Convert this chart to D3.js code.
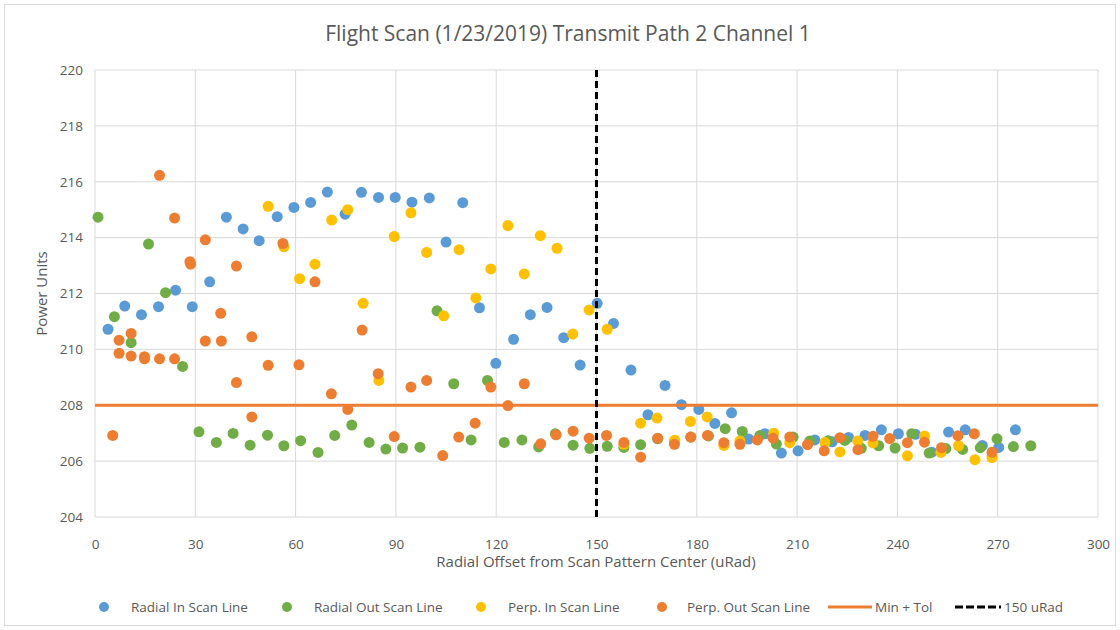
<!DOCTYPE html>
<html>
<head>
<meta charset="utf-8">
<script src="https://cdn.jsdelivr.net/npm/d3@7"></script>
<style>
  body { margin: 0; background: #fff; }
  svg text { font-family: "Open Sans", "Liberation Sans", sans-serif; fill: #595959; }
</style>
</head>
<body>
<svg id="chart" width="1120" height="630"></svg>
<script>
// data: [radial offset, power]
const radialIn = [
  [3.9, 210.72], [8.9, 211.55], [13.9, 211.24], [19.0, 211.53], [24.1, 212.12], [29.1, 211.53],
  [34.3, 212.42], [39.3, 214.73], [44.3, 214.31], [49.1, 213.89], [54.5, 214.75], [59.5, 215.08],
  [64.5, 215.26], [69.5, 215.63], [74.8, 214.84], [79.7, 215.62], [84.8, 215.44], [89.8, 215.44],
  [94.8, 215.27], [100.0, 215.42], [105.0, 213.84], [110.0, 215.25], [115.0, 211.49], [119.9, 209.5],
  [125.2, 210.36], [130.2, 211.24], [135.2, 211.5], [140.2, 210.42], [145.1, 209.44], [150.2, 211.65],
  [155.1, 210.93], [160.3, 209.26], [165.4, 207.66], [170.5, 208.71], [175.4, 208.02], [180.6, 207.85],
  [185.4, 207.35], [190.4, 207.73], [195.5, 206.79], [200.4, 206.98], [205.3, 206.29], [210.3, 206.37],
  [215.3, 206.76], [220.5, 206.69], [225.4, 206.85], [230.3, 206.92], [235.2, 207.12], [240.3, 206.98],
  [245.4, 206.96], [250.3, 206.32], [255.3, 207.04], [260.3, 207.12], [265.4, 206.56], [270.3, 206.49],
  [275.3, 207.12]
];
const radialOut = [
  [0.9, 214.73], [5.8, 211.17], [10.8, 210.24], [16.0, 213.77], [21.1, 212.03], [26.2, 209.39],
  [31.1, 207.05], [36.3, 206.67], [41.3, 206.99], [46.4, 206.57], [51.6, 206.93], [56.5, 206.55],
  [61.5, 206.73], [66.7, 206.31], [71.7, 206.92], [76.8, 207.29], [82.0, 206.67], [87.0, 206.43],
  [92.0, 206.47], [97.2, 206.5], [102.3, 211.38], [107.3, 208.77], [112.5, 206.76], [117.4, 208.89],
  [122.4, 206.67], [127.7, 206.76], [132.7, 206.51], [137.7, 206.98], [143.0, 206.57], [148.0, 206.46],
  [153.2, 206.53], [158.2, 206.49], [163.2, 206.59], [168.3, 206.8], [173.3, 206.7], [178.2, 206.86],
  [183.5, 206.9], [188.5, 207.16], [193.6, 207.06], [198.9, 206.92], [203.8, 206.61], [208.8, 206.86],
  [213.8, 206.72], [219.3, 206.73], [224.3, 206.74], [229.2, 206.46], [234.4, 206.55], [239.3, 206.47],
  [244.3, 206.98], [249.5, 206.29], [254.5, 206.45], [259.5, 206.42], [264.8, 206.48], [269.8, 206.8],
  [274.7, 206.52], [279.9, 206.55]
];
const perpIn = [
  [51.8, 215.12], [56.5, 213.67], [61.2, 212.53], [65.8, 213.05], [70.8, 214.63], [75.6, 215.0],
  [80.2, 211.65], [84.9, 208.89], [89.5, 214.04], [94.5, 214.89], [99.2, 213.47], [104.3, 211.2],
  [108.9, 213.57], [113.9, 211.84], [118.4, 212.88], [123.5, 214.43], [128.4, 212.7], [133.2, 214.07],
  [138.2, 213.62], [142.9, 210.55], [147.8, 211.41], [153.2, 210.72], [158.2, 206.6], [163.2, 207.36],
  [168.1, 207.54], [173.4, 206.75], [178.1, 207.42], [183.1, 207.58], [188.1, 206.56], [192.9, 206.72],
  [203.0, 207.0], [207.8, 206.66], [218.3, 206.67], [222.8, 206.33], [228.1, 206.72], [232.7, 206.65],
  [243.0, 206.19], [248.1, 206.9], [253.0, 206.31], [258.3, 206.55], [263.2, 206.05], [268.3, 206.13]
];
const perpOut = [
  [5.3, 206.92], [7.2, 210.33], [7.2, 209.86], [10.8, 210.57], [10.8, 209.76], [14.8, 209.74],
  [14.8, 209.66], [19.3, 216.23], [19.3, 209.66], [23.8, 214.7], [23.8, 209.66], [28.4, 213.14],
  [28.6, 213.05], [33.0, 213.92], [33.0, 210.3], [37.6, 211.29], [37.8, 210.3], [42.3, 212.98],
  [42.3, 208.81], [46.9, 210.45], [46.9, 207.58], [51.8, 209.43], [56.2, 213.79], [61.0, 209.45],
  [65.8, 212.42], [70.7, 208.41], [75.6, 207.85], [79.9, 210.69], [84.7, 209.13], [89.5, 206.88],
  [94.5, 208.65], [99.2, 208.89], [104.0, 206.2], [108.8, 206.86], [113.7, 207.36], [118.4, 208.65],
  [123.5, 207.99], [128.4, 208.77], [133.3, 206.62], [137.9, 206.94], [143.0, 207.07], [147.8, 206.82],
  [153.0, 206.92], [158.2, 206.67], [163.2, 206.14], [168.3, 206.82], [173.3, 206.6], [178.2, 206.86],
  [183.2, 206.92], [188.1, 206.66], [192.9, 206.6], [198.1, 206.76], [202.8, 206.82], [207.8, 206.86],
  [213.1, 206.59], [218.1, 206.37], [222.8, 206.84], [228.2, 206.41], [232.7, 206.89], [237.7, 206.81],
  [243.0, 206.66], [248.1, 206.68], [253.2, 206.48], [258.1, 206.91], [263.0, 206.98], [268.3, 206.32]
];
const minTol = 208;
const limitX = 150;
const xTicks = [0, 30, 60, 90, 120, 150, 180, 210, 240, 270, 300];
const yTicks = [204, 206, 208, 210, 212, 214, 216, 218, 220];

const svg = d3.select("#chart");
const plotLeft = 95, plotRight = 1098, plotTop = 70, plotBottom = 517;

const x = d3.scaleLinear().domain([0, 300]).range([plotLeft, plotRight]);
const y = d3.scaleLinear().domain([204, 220]).range([plotBottom, plotTop]);

// outer border
svg.append("rect").attr("x", 4.5).attr("y", 4.5).attr("width", 1111).attr("height", 621)
  .attr("fill", "none").attr("stroke", "#d9d9d9");

// title
svg.append("text").attr("x", 568).attr("y", 41).attr("text-anchor", "middle")
  .attr("font-size", 21).text("Flight Scan (1/23/2019) Transmit Path 2 Channel 1");

// gridlines
svg.append("g").selectAll("line").data(yTicks).join("line")
  .attr("x1", plotLeft).attr("x2", plotRight).attr("y1", d => y(d)).attr("y2", d => y(d))
  .attr("stroke", "#d9d9d9").attr("stroke-width", 1);
svg.append("g").selectAll("line").data(xTicks).join("line")
  .attr("x1", d => x(d)).attr("x2", d => x(d)).attr("y1", plotTop).attr("y2", plotBottom)
  .attr("stroke", "#d9d9d9").attr("stroke-width", 1);

// axes
const xAxis = svg.append("g").attr("transform", `translate(0,${plotBottom + 16})`)
  .call(d3.axisBottom(x).tickValues(xTicks).tickSize(0).tickPadding(6));
xAxis.select(".domain").remove();
xAxis.selectAll("text").attr("font-size", 13.5).attr("fill", "#595959")
  .attr("font-family", "'Open Sans', sans-serif");

const yAxis = svg.append("g").attr("transform", `translate(${plotLeft - 12},0)`)
  .call(d3.axisLeft(y).tickValues(yTicks).tickSize(0).tickPadding(0));
yAxis.select(".domain").remove();
yAxis.selectAll("text").attr("font-size", 13.5).attr("fill", "#595959")
  .attr("font-family", "'Open Sans', sans-serif");

svg.append("text").attr("x", 596).attr("y", 567).attr("text-anchor", "middle")
  .attr("font-size", 15).text("Radial Offset from Scan Pattern Center (uRad)");
svg.append("text").attr("transform", `translate(47,${(plotTop + plotBottom) / 2}) rotate(-90)`)
  .attr("text-anchor", "middle").attr("font-size", 15).text("Power Units");

// markers
const series = [
  { data: radialIn, color: "#5b9bd5" },
  { data: radialOut, color: "#70ad47" },
  { data: perpIn, color: "#ffc000" },
  { data: perpOut, color: "#ed7d31" }
];
series.forEach(s => {
  svg.append("g").selectAll("circle").data(s.data).join("circle")
    .attr("cx", d => x(d[0])).attr("cy", d => y(d[1])).attr("r", 5.5)
    .attr("fill", s.color);
});

// reference lines
svg.append("line").attr("x1", x(0)).attr("x2", x(300)).attr("y1", y(minTol)).attr("y2", y(minTol))
  .attr("stroke", "#ed7d31").attr("stroke-width", 3);
svg.append("line").attr("x1", x(limitX)).attr("x2", x(limitX)).attr("y1", y(220)).attr("y2", y(204))
  .attr("stroke", "#000").attr("stroke-width", 3).attr("stroke-dasharray", "7,4");

// legend
const legendY = 607;
const legendItems = [
  { label: "Radial In Scan Line", color: "#5b9bd5", kind: "dot", mx: 104, tx: 131 },
  { label: "Radial Out Scan Line", color: "#70ad47", kind: "dot", mx: 287, tx: 314 },
  { label: "Perp. In Scan Line", color: "#ffc000", kind: "dot", mx: 481, tx: 508 },
  { label: "Perp. Out Scan Line", color: "#ed7d31", kind: "dot", mx: 662, tx: 687 },
  { label: "Min + Tol", color: "#ed7d31", kind: "line", mx: 828, tx: 875 },
  { label: "150 uRad", color: "#000", kind: "dash", mx: 955, tx: 1004 }
];
legendItems.forEach(it => {
  if (it.kind === "dot") {
    svg.append("circle").attr("cx", it.mx).attr("cy", legendY).attr("r", 5).attr("fill", it.color);
  } else {
    svg.append("line").attr("x1", it.mx).attr("x2", it.tx - 3).attr("y1", legendY).attr("y2", legendY)
      .attr("stroke", it.color).attr("stroke-width", 3)
      .attr("stroke-dasharray", it.kind === "dash" ? "8,3" : null);
  }
  svg.append("text").attr("x", it.tx).attr("y", legendY + 5).attr("font-size", 13.5).text(it.label);
});
</script>
</body>
</html>
